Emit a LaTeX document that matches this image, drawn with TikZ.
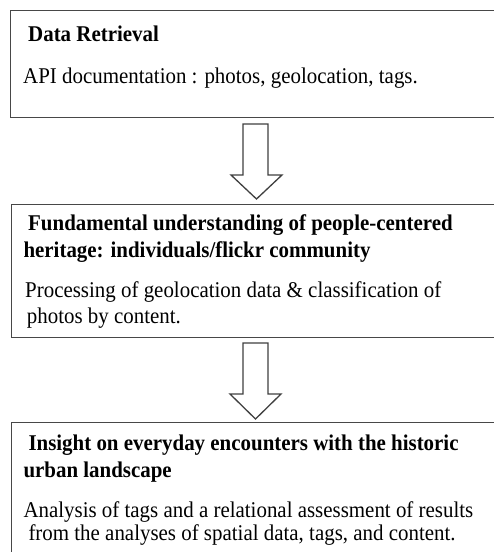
\documentclass[tikz,border=0pt]{standalone}
\usepackage{fontspec}
\setmainfont{Liberation Serif}[FakeStretch=0.93]
\begin{document}
\begin{tikzpicture}[x=1pt,y=-1pt,
  boxst/.style={draw=black!72, line width=1.4pt, anchor=north west, inner sep=0pt, minimum width=500pt},
  blk/.style={draw=black!75, line width=1.3pt, line join=miter, fill=white},
  txt/.style={anchor=base west, inner sep=0pt, font=\fontsize{22.5}{27}\selectfont},
  ttl/.style={txt, font=\fontsize{22.5}{27}\selectfont\bfseries}]
\useasboundingbox (0,0) rectangle (494,552);
\clip (0,0) rectangle (494,552);
\fill[white] (0,0) rectangle (494,552);
% boxes
\node[boxst, minimum height=106.5pt] (b1) at (10,10) {};
\node[boxst, minimum height=132.5pt] (b2) at (10.5,204) {};
\node[boxst, minimum height=160pt] (b3) at (10.5,421.5) {};
% block arrows
\draw[blk] (243,124) -- (268,124) -- (268,175) -- (282,175) -- (256.5,199) -- (231,175) -- (243,175) -- cycle;
\draw[blk] (243,343) -- (268,343) -- (268,394) -- (281,394) -- (255.5,419) -- (230,394) -- (243,394) -- cycle;
% texts
\node[ttl] (t1) at (28,41) {Data Retrieval};
\node[txt] (d1) at (23,83) {API documentation : photos, geolocation, tags.};
\node[ttl] (t2a) at (28,230) {Fundamental understanding of people-centered};
\node[ttl] (t2b) at (23.3,257) {heritage: individuals/flickr community};
\node[txt] (d2a) at (25,297) {Processing of geolocation data \& classification of};
\node[txt] (d2b) at (26.7,323) {photos by content.};
\node[ttl] (t3a) at (28.3,450) {Insight on everyday encounters with the historic};
\node[ttl] (t3b) at (23.3,477) {urban landscape};
\node[txt] (d3a) at (23.3,517) {Analysis of tags and a relational assessment of results};
\node[txt] (d3b) at (28.3,540) {from the analyses of spatial data, tags, and content.};
\end{tikzpicture}
\end{document}
